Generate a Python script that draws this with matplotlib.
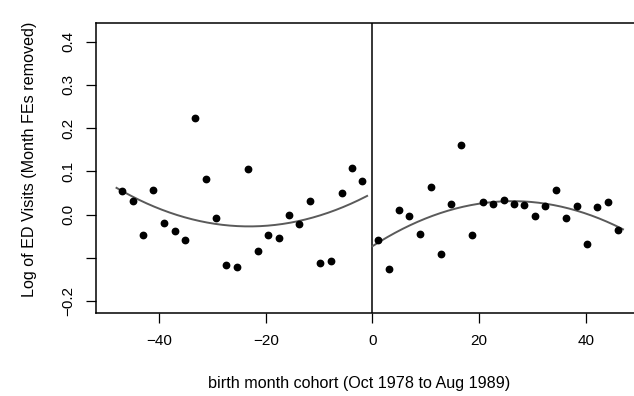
import numpy as np
import matplotlib
matplotlib.use("Agg")
import matplotlib.pyplot as plt

plt.rcParams['font.family'] = ['Liberation Sans', 'DejaVu Sans']

# birth month cohort, relative to cutoff (binned means)
x_left = [-46.9, -45.0, -43.0, -41.1, -39.1, -37.1, -35.2, -33.2, -31.2, -29.3, -27.4, -25.4,
          -23.4, -21.4, -19.5, -17.6, -15.6, -13.7, -11.7, -9.8, -7.8, -5.8, -3.8, -1.9]
y_left = [0.055, 0.031, -0.048, 0.056, -0.020, -0.037, -0.059, 0.223, 0.083, -0.007, -0.117, -0.121,
          0.105, -0.084, -0.047, -0.055, -0.001, -0.022, 0.031, -0.112, -0.107, 0.050, 0.108, 0.078]

x_right = [1.1, 3.1, 5.0, 6.9, 8.9, 10.9, 12.8, 14.8, 16.7, 18.7, 20.7, 22.6,
           24.6, 26.5, 28.5, 30.5, 32.4, 34.4, 36.3, 38.3, 40.3, 42.2, 44.1, 46.1]
y_right = [-0.059, -0.125, 0.011, -0.003, -0.044, 0.063, -0.091, 0.024, 0.160, -0.047, 0.028, 0.025,
           0.034, 0.025, 0.022, -0.003, 0.020, 0.056, -0.007, 0.019, -0.067, 0.017, 0.030, -0.036]

# range over which the quadratic fits are drawn
fit_left = (-48, -1)
fit_right = (0, 47)

yticks = [-0.2, -0.1, 0.0, 0.1, 0.2, 0.3, 0.4]
ytick_labels = ["\u22120.2", "", "0.0", "0.1", "0.2", "0.3", "0.4"]
xticks = [-40, -20, 0, 20, 40]
xtick_labels = ["\u221240", "\u221220", "0", "20", "40"]

fig = plt.figure(figsize=(6.34, 3.96), dpi=100)
ax = fig.add_axes([0.151, 0.2088, 0.8636, 0.7324])

# quadratic fits on each side of the cutoff
for xs, ys, rng in [(x_left, y_left, fit_left), (x_right, y_right, fit_right)]:
    coef = np.polyfit(xs, ys, 2)
    xx = np.linspace(rng[0], rng[1], 200)
    ax.plot(xx, np.polyval(coef, xx), color="#5a5a5a", lw=1.4, zorder=2)

ax.plot(x_left, y_left, "o", color="black", ms=4.6, zorder=3)
ax.plot(x_right, y_right, "o", color="black", ms=4.6, zorder=3)
ax.axvline(0, color="black", lw=1.1, zorder=1)

ax.set_xlim(-51.9, 50.8)
ax.set_ylim(-0.2285, 0.4426)
ax.set_xticks(xticks)
ax.set_xticklabels(xtick_labels)
ax.set_yticks(yticks)
ax.set_yticklabels(ytick_labels, rotation=90, va="center")

for s in ["left", "bottom", "top"]:
    ax.spines[s].set_linewidth(1.1)
ax.spines["right"].set_visible(False)
ax.tick_params(direction="out", length=7, width=0.9, labelsize=11, colors="black")
ax.tick_params(axis="x", pad=8)
ax.tick_params(axis="y", pad=8)

ax.set_xlabel("birth month cohort (Oct 1978 to Aug 1989)", fontsize=11.6)
ax.set_ylabel("Log of ED Visits (Month FEs removed)", fontsize=11.6)
ax.xaxis.set_label_coords(0.481, -0.215)
ax.yaxis.set_label_coords(-0.107, 0.53)

fig.savefig("out.png", dpi=100)
